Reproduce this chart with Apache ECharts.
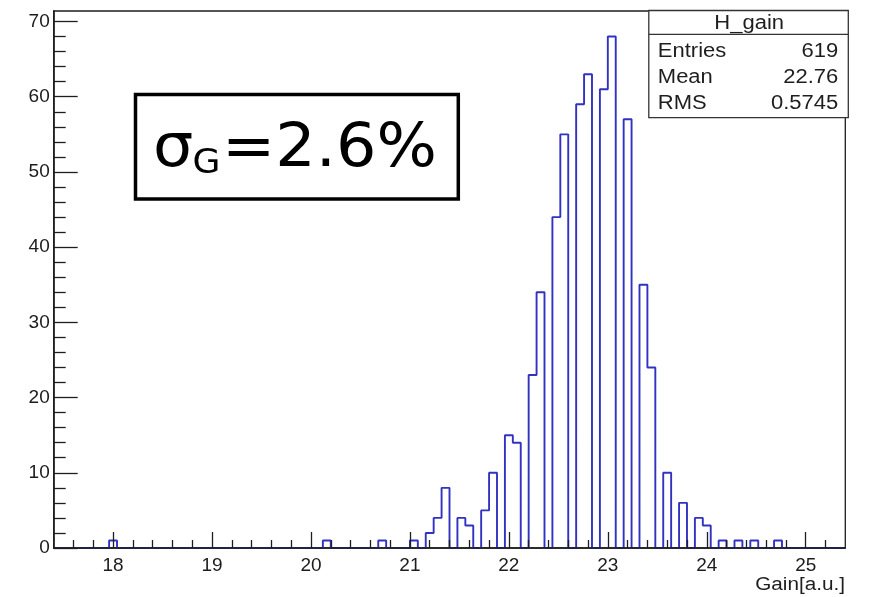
<!DOCTYPE html>
<html>
<head>
<meta charset="utf-8">
<title>H_gain</title>
<script src="https://cdn.jsdelivr.net/npm/echarts@6/dist/echarts.min.js"></script>
<style>
  html, body { margin: 0; padding: 0; background: #ffffff; }
  #chart { width: 870px; height: 597px; }
</style>
</head>
<body>
<div id="chart"></div>
<script>
// Histogram H_gain: 100 bins between 17.4 and 25.4
const histLow = 17.4;
const histHigh = 25.4;
const binCounts = [
  0, 0, 0, 0, 0, 0, 0, 1, 0, 0,
  0, 0, 0, 0, 0, 0, 0, 0, 0, 0,
  0, 0, 0, 0, 0, 0, 0, 0, 0, 0,
  0, 0, 0, 0, 1, 0, 0, 0, 0, 0,
  0, 1, 0, 0, 0, 1, 0, 2, 4, 8,
  0, 4, 3, 0, 5, 10, 0, 15, 14, 0,
  23, 34, 0, 44, 55, 0, 59, 63, 0, 61,
  68, 0, 57, 0, 35, 24, 0, 10, 0, 6,
  0, 4, 3, 0, 1, 0, 1, 0, 1, 0,
  0, 1, 0, 0, 0, 0, 0, 0, 0, 0
];

// Axis ticks and labels
const xMajorTicks = [18, 19, 20, 21, 22, 23, 24, 25];
const xMinorTicks = [17.6, 17.8, 18.2, 18.4, 18.6, 18.8, 19.2, 19.4, 19.6, 19.8,
  20.2, 20.4, 20.6, 20.8, 21.2, 21.4, 21.6, 21.8, 22.2, 22.4, 22.6, 22.8,
  23.2, 23.4, 23.6, 23.8, 24.2, 24.4, 24.6, 24.8, 25.2];
const yMajorTicks = [0, 10, 20, 30, 40, 50, 60, 70];
const yMinorTicks = [2, 4, 6, 8, 12, 14, 16, 18, 22, 24, 26, 28, 32, 34, 36, 38,
  42, 44, 46, 48, 52, 54, 56, 58, 62, 64, 66, 68];
const yMax = 71.4;

// Statistics box contents
const statsTitle = 'H_gain';
const statsNames = ['Entries', 'Mean', 'RMS'];
const statsValues = ['619', '22.76', '0.5745'];
const resolutionLabel = { symbol: '\u03C3', sub: 'G', rest: '=2.6%' };
const xTitle = 'Gain[a.u.]';

// Outline of the histogram: one point per lower bin edge, plus the upper edge of the last bin
const binWidth = (histHigh - histLow) / binCounts.length;
const outline = binCounts.map((c, k) => [histLow + k * binWidth, c]);
outline.push([histHigh, binCounts[binCounts.length - 1]]);

const labelFont = { fontFamily: '"Liberation Sans", Arial, sans-serif', fontSize: 19, color: '#1c1c1c' };
const ink = '#1e1e1e';

const chart = echarts.init(document.getElementById('chart'), null, { renderer: 'canvas' });

const statsFont = '20px "Liberation Sans", Arial, sans-serif';
const rowBaselines = [58.6, 84.0, 110.6];
const statsElements = [
  {
    type: 'rect', z: 100,
    shape: { x: 648.8, y: 10.5, width: 199.5, height: 107.2 },
    style: { fill: '#ffffff', stroke: '#333333', lineWidth: 1.3 }
  },
  {
    type: 'line', z: 101,
    shape: { x1: 648.8, y1: 34.3, x2: 848.3, y2: 34.3 },
    style: { stroke: '#333333', lineWidth: 1.3 }
  },
  {
    type: 'text', z: 101, x: 749.2, y: 30.3 - 0.3465 * 20, scaleX: 1.1,
    style: { text: statsTitle, font: statsFont, fill: ink, textAlign: 'center', textVerticalAlign: 'middle' }
  }
];
statsNames.forEach((name, i) => {
  const yMid = rowBaselines[i] - 0.3465 * 20;
  statsElements.push({
    type: 'text', z: 101, x: 657.8, y: yMid, scaleX: 1.1,
    style: { text: name, font: statsFont, fill: ink, textAlign: 'left', textVerticalAlign: 'middle' }
  });
  statsElements.push({
    type: 'text', z: 101, x: 838.3, y: yMid, scaleX: 1.1,
    style: { text: statsValues[i], font: statsFont, fill: ink, textAlign: 'right', textVerticalAlign: 'middle' }
  });
});

const bigFont = '"DejaVu Sans", Verdana, sans-serif';
const bigStretch = 1.06;
const labelBox = [
  {
    type: 'rect', z: 100,
    shape: { x: 135.5, y: 94.5, width: 322.8, height: 104.5 },
    style: { fill: '#ffffff', stroke: '#000000', lineWidth: 3.5 }
  },
  {
    type: 'text', z: 101, x: 153.0, y: 171.5 - 0.346 * 60, scaleX: bigStretch,
    style: { text: resolutionLabel.symbol, font: '60px ' + bigFont, fill: '#000000', textAlign: 'left', textVerticalAlign: 'middle' }
  },
  {
    type: 'text', z: 101, x: 192.5, y: 176.0 - 0.346 * 34, scaleX: bigStretch,
    style: { text: resolutionLabel.sub, font: '34px ' + bigFont, fill: '#000000', textAlign: 'left', textVerticalAlign: 'middle' }
  },
  {
    type: 'text', z: 101, x: 222, y: 171.5 - 0.346 * 60, scaleX: bigStretch,
    style: { text: resolutionLabel.rest, font: '60px ' + bigFont, fill: '#000000', textAlign: 'left', textVerticalAlign: 'middle' }
  }
];

const axisTitle = {
  type: 'text', z: 101, x: 845.0, y: 591 - 0.3465 * 18, scaleX: 1.15,
  style: { text: xTitle, font: '18px "Liberation Sans", Arial, sans-serif', fill: ink, textAlign: 'right', textVerticalAlign: 'middle' }
};

chart.setOption({
  animation: false,
  backgroundColor: '#ffffff',
  grid: {
    left: 53.7, right: 24.7, top: 11, bottom: 49,
    show: true, borderColor: ink, borderWidth: 1.3, backgroundColor: 'transparent'
  },
  xAxis: [
    {
      type: 'value', min: histLow, max: histHigh, z: 5,
      axisLine: { show: true, onZero: false, lineStyle: { color: ink, width: 1.6 } },
      axisTick: { show: true, inside: true, length: 16, customValues: xMajorTicks, lineStyle: { color: ink, width: 1.3 } },
      axisLabel: Object.assign({ show: true, margin: 8, customValues: xMajorTicks }, labelFont),
      splitLine: { show: false }
    },
    {
      type: 'value', min: histLow, max: histHigh, position: 'bottom', z: 5,
      axisLine: { show: false },
      axisTick: { show: true, inside: true, length: 8, customValues: xMinorTicks, lineStyle: { color: ink, width: 1.3 } },
      axisLabel: { show: false },
      splitLine: { show: false }
    }
  ],
  yAxis: [
    {
      type: 'value', min: 0, max: yMax, z: 5,
      axisLine: { show: true, onZero: false, lineStyle: { color: ink, width: 1.6 } },
      axisTick: { show: true, inside: true, length: 24, customValues: yMajorTicks, lineStyle: { color: ink, width: 1.3 } },
      axisLabel: Object.assign({ show: true, margin: 4, customValues: yMajorTicks }, labelFont),
      splitLine: { show: false }
    },
    {
      type: 'value', min: 0, max: yMax, position: 'left', z: 5,
      axisLine: { show: false },
      axisTick: { show: true, inside: true, length: 12, customValues: yMinorTicks, lineStyle: { color: ink, width: 1.3 } },
      axisLabel: { show: false },
      splitLine: { show: false }
    }
  ],
  series: [
    {
      name: statsTitle,
      type: 'line',
      xAxisIndex: 0,
      yAxisIndex: 0,
      step: 'end',
      symbol: 'none',
      data: outline,
      lineStyle: { color: '#3232c2', width: 1.9 },
      z: 2
    }
  ],
  graphic: { elements: statsElements.concat(labelBox, [axisTitle]) }
});
</script>
</body>
</html>
